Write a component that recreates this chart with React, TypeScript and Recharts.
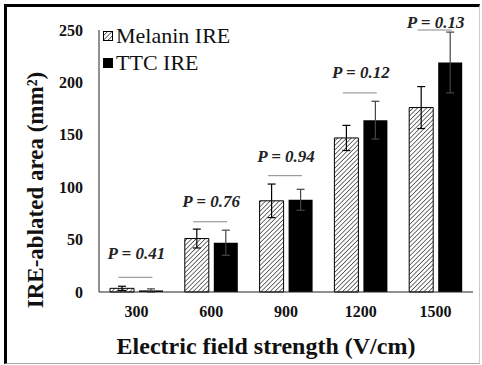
import { BarChart, Bar, XAxis, YAxis, ErrorBar, ReferenceDot } from "recharts";

const fieldStrengths = ["300", "600", "900", "1200", "1500"];
const melaninArea = [3.5, 51, 87, 147, 176];
const melaninErr = [2, 9, 16, 12, 20];
const ttcArea = [1.5, 47, 88, 164, 219];
const ttcErr = [1.5, 12, 10, 18, 29];
const pLabels = ["P = 0.41", "P = 0.76", "P = 0.94", "P = 0.12", "P = 0.13"];
const pLineLevel = [14, 67, 111, 190, 250];
const pTextLevel = [37, 86, 129, 209, 257];
const yTicks = [0, 50, 100, 150, 200, 250];
const seriesNames = ["Melanin IRE", "TTC IRE"];

const data = fieldStrengths.map((f, i) => ({
  field: f,
  melanin: melaninArea[i],
  melaninErr: melaninErr[i],
  ttc: ttcArea[i],
  ttcErr: ttcErr[i],
}));

const serif = "'Liberation Serif', 'Times New Roman', serif";

// legend drawn as an overlay so it doesn't shrink the plot area
const LegendBox = () => (
  <div
    style={{
      position: "absolute",
      left: 103,
      top: 22,
      fontFamily: serif,
      fontSize: 22,
      color: "#111",
      lineHeight: "27px",
    }}
  >
    {seriesNames.map((name, i) => (
      <div key={name} style={{ display: "flex", alignItems: "center", height: 27 }}>
        <svg width={10} height={10} style={{ marginRight: 3 }}>
          <rect
            x={0.5}
            y={0.5}
            width={9}
            height={9}
            fill={i === 0 ? "url(#hatch)" : "#000"}
            stroke="#000"
          />
        </svg>
        <span>{name}</span>
      </div>
    ))}
  </div>
);

export default function App() {
  return (
    <div style={{ position: "absolute", left: 0, top: 0, width: 482, height: 365, background: "#fff" }}>
      <div
        style={{
          position: "absolute",
          left: 4,
          top: 4,
          width: 472,
          height: 356,
          borderTop: "3px solid #000",
          borderLeft: "3px solid #000",
          borderBottom: "1px solid #aaa",
          borderRight: "1px solid #ccc",
        }}
      />
      <div style={{ position: "absolute", left: 0, top: 0 }}>
        <BarChart
          width={482}
          height={365}
          data={data}
          margin={{ top: 30, right: 9, bottom: 43, left: 39 }}
          barSize={24}
          barGap={5}
        >
          <defs>
            <pattern id="hatch" width={3.2} height={3.2} patternUnits="userSpaceOnUse" patternTransform="rotate(45)">
              <rect width={3.2} height={3.2} fill="#fff" />
              <line x1={0} y1={0} x2={0} y2={3.2} stroke="#000" strokeWidth={1.1} />
            </pattern>
          </defs>
          <XAxis
            dataKey="field"
            height={30}
            tickLine={false}
            tickSize={0}
            tickMargin={14}
            axisLine={{ stroke: "#222" }}
            tick={{ fontFamily: serif, fontSize: 16, fontWeight: "bold", fill: "#111" }}
          />
          <YAxis
            width={60}
            domain={[0, 250]}
            ticks={yTicks}
            tickLine={false}
            tickSize={0}
            tickMargin={16}
            axisLine={{ stroke: "#222" }}
            tick={{ fontFamily: serif, fontSize: 16, fontWeight: "bold", fill: "#111" }}
          />
          <Bar dataKey="melanin" name={seriesNames[0]} fill="url(#hatch)" stroke="#000" strokeWidth={1} isAnimationActive={false}>
            <ErrorBar dataKey="melaninErr" width={4} stroke="#000" strokeWidth={1.2} />
          </Bar>
          <Bar dataKey="ttc" name={seriesNames[1]} fill="#000" isAnimationActive={false}>
            <ErrorBar dataKey="ttcErr" width={4} stroke="#444" strokeWidth={1.2} />
          </Bar>
          {fieldStrengths.map((f, i) => (
            <ReferenceDot
              key={"line" + f}
              x={f}
              y={pLineLevel[i]}
              ifOverflow="visible"
              shape={(p: any) => (
                <line x1={p.cx - 18} x2={p.cx + 16} y1={p.cy} y2={p.cy} stroke="#888" strokeWidth={1} />
              )}
            />
          ))}
          {fieldStrengths.map((f, i) => (
            <ReferenceDot
              key={"text" + f}
              x={f}
              y={pTextLevel[i]}
              ifOverflow="visible"
              shape={(p: any) => (
                <text
                  x={p.cx}
                  y={p.cy}
                  textAnchor="middle"
                  dominantBaseline="central"
                  fontFamily={serif}
                  fontSize={17}
                  fontWeight="bold"
                  fontStyle="italic"
                  fill="#222"
                >
                  {pLabels[i]}
                </text>
              )}
            />
          ))}
          <text
            x={35}
            y={190}
            transform="rotate(-90 35 190)"
            textAnchor="middle"
            dominantBaseline="central"
            fontFamily={serif}
            fontSize={23}
            fontWeight="bold"
            fill="#111"
          >
            IRE-ablated area (mm²)
          </text>
          <text
            x={266}
            y={346}
            textAnchor="middle"
            dominantBaseline="central"
            fontFamily={serif}
            fontSize={24}
            fontWeight="bold"
            fill="#111"
          >
            Electric field strength (V/cm)
          </text>
        </BarChart>
      </div>
      <LegendBox />
    </div>
  );
}
